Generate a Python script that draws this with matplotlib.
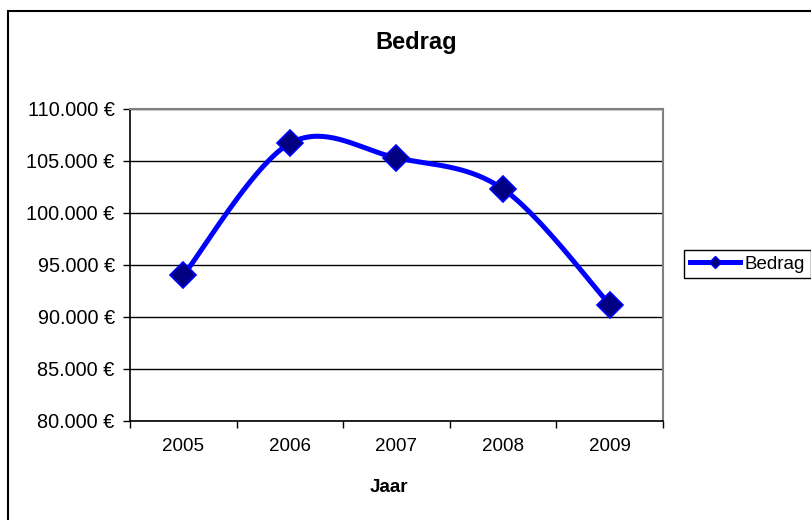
import numpy as np
import matplotlib
matplotlib.use("Agg")
import matplotlib.pyplot as plt
from matplotlib.lines import Line2D
from matplotlib.patches import Rectangle
from matplotlib.ticker import FuncFormatter, FixedLocator

years = ["2005", "2006", "2007", "2008", "2009"]
values = [94000, 106700, 105300, 102300, 91200]
title = "Bedrag"
xlabel = "Jaar"
series_name = "Bedrag"

plt.rcParams['font.family'] = ['Liberation Sans', 'DejaVu Sans']

W, H = 812, 520
fig = plt.figure(figsize=(W / 100, H / 100), dpi=100)
ax = fig.add_axes([130 / W, 1 - 421 / H, (663 - 130) / W, (421 - 109) / H])

# Excel-style smoothed line (Catmull-Rom via cubic Bezier)
x = np.arange(len(values), dtype=float)
y = np.array(values, dtype=float)
n = len(x)
cx, cy = [], []
t = np.linspace(0, 1, 40)
for i in range(n - 1):
    p0 = np.array([x[max(i - 1, 0)], y[max(i - 1, 0)]])
    p1 = np.array([x[i], y[i]])
    p2 = np.array([x[i + 1], y[i + 1]])
    p3 = np.array([x[min(i + 2, n - 1)], y[min(i + 2, n - 1)]])
    c1 = p1 + (p2 - p0) / 6
    c2 = p2 - (p3 - p1) / 6
    for tt in t[:-1] if i < n - 2 else t:
        b = ((1 - tt) ** 3) * p1 + 3 * ((1 - tt) ** 2) * tt * c1 + 3 * (1 - tt) * tt ** 2 * c2 + tt ** 3 * p2
        cx.append(b[0]); cy.append(b[1])

ax.plot(cx, cy, color='#0000FF', lw=3.6, solid_capstyle='round', solid_joinstyle='round', zorder=3)
ax.plot(x, y, linestyle='none', marker='D', ms=13, mfc='#000080', mec='#0000FF', mew=1.2, zorder=4)

ax.set_xlim(-0.5, n - 0.5)
ax.set_ylim(80000, 110000)
ax.set_yticks(np.arange(80000, 110001, 5000))
ax.yaxis.set_major_formatter(FuncFormatter(lambda v, p: f"{int(v):,} €".replace(",", ".")))
ax.yaxis.grid(True, color='black', lw=1.0)
ax.set_axisbelow(True)

ax.xaxis.set_major_locator(FixedLocator(np.arange(-0.5, n, 1.0)))
ax.xaxis.set_major_formatter(FuncFormatter(lambda v, p: ""))
ax.set_xticks(x, minor=True)
ax.set_xticklabels(years, minor=True)
ax.tick_params(axis='x', which='minor', length=0, pad=12, labelsize=13.5)
ax.tick_params(axis='x', which='major', length=5, width=1, color='black')
ax.tick_params(axis='y', length=5, width=1, pad=6, labelsize=14.3)

for s in ['top', 'right']:
    ax.spines[s].set_color('#808080')
    ax.spines[s].set_linewidth(1.5)
for s in ['left', 'bottom']:
    ax.spines[s].set_color('black')
    ax.spines[s].set_linewidth(1.2)

fig.text(416 / W, 1 - 42 / H, title, ha='center', va='center', fontsize=17, fontweight='bold')
fig.text(389 / W, 1 - 487 / H, xlabel, ha='center', va='center', fontsize=13.5, fontweight='bold')

handle = Line2D([0], [0], color='#0000FF', lw=3.6, marker='D', ms=6, mfc='#000080', mec='#0000FF')
leg = fig.legend([handle], [series_name], loc='center left', bbox_to_anchor=(684 / W, 1 - 264 / H),
                 fontsize=13.5, frameon=True, fancybox=False, edgecolor='black', framealpha=1,
                 handlelength=2.7, handletextpad=0.25, borderpad=0.3, borderaxespad=0)
leg.get_frame().set_linewidth(1.0)

fig.patches.append(Rectangle((8 / W, -0.05), 1.1, 1 - 11 / H + 0.05, transform=fig.transFigure,
                             fill=False, edgecolor='black', lw=1.5))

fig.savefig("out.png", dpi=100)
